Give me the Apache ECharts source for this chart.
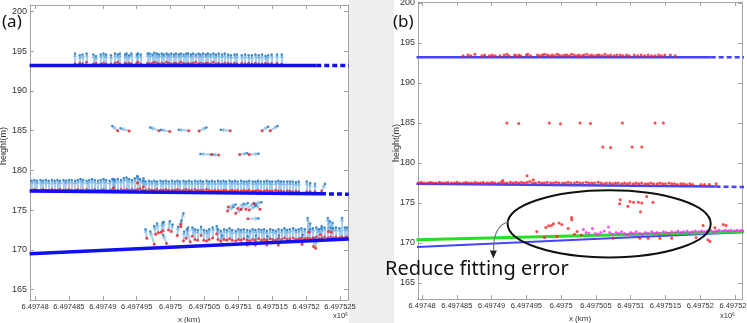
<!DOCTYPE html>
<html>
<head>
<meta charset="utf-8">
<script src="https://cdn.jsdelivr.net/npm/echarts@6.0.0/dist/echarts.min.js"></script>
<style>
html,body{margin:0;padding:0;background:#eeeeee;}
#chart{width:747px;height:323px;}
</style>
</head>
<body>
<div id="chart"></div>
<script>
// x is stored as offset from 6.49748e6 km, tick labels carry the real values
var xTickValues = [0, 5, 10, 15, 20, 25, 30, 35, 40, 45];
var xTickLabels = ['6.49748', '6.497485', '6.49749', '6.497495', '6.4975', '6.497505', '6.49751', '6.497515', '6.49752', '6.497525'];
var yTickValues = [165, 170, 175, 180, 185, 190, 195, 200];

// fitted surfaces [x, height]
var lineTop = [[-0.8, 193.2], [41.5, 193.2]];
var lineTopTail = [[41.5, 193.2], [46.3, 193.2]];
var lineMid = [[-0.8, 177.4], [42.2, 177.05]];
var lineMidTail = [[42.2, 177.05], [46.3, 177.0]];
var lineLow = [[-0.8, 169.5], [46.3, 171.35]];
var lineLowRefit = [[-0.8, 170.4], [46.3, 171.4]];

// vertical vectors: [x, height, tip height]
var band1Vec = [
  [5.9,193.4,194.7],[6.6,193.5,194.5],[7.0,193.4,194.6],[7.6,193.6,194.7],[8.6,193.4,194.6],[9.0,193.5,194.4],[9.7,193.4,194.6],[10.1,193.5,194.7],[10.5,193.4,194.6],[11.2,193.4,194.5],
  [11.8,193.5,194.7],[12.2,193.6,194.6],[12.5,193.4,194.7],[13.3,193.5,194.6],[13.5,193.4,194.7],[13.9,193.5,194.5],[14.2,193.4,194.7],[15.0,193.5,194.6],[15.2,193.6,194.7],[15.6,193.4,194.6],
  [16.6,193.5,194.7],[16.9,193.4,194.7],[17.3,193.5,194.6],[17.6,193.6,194.8],[18.0,193.5,194.7],[18.3,193.4,194.6],[18.7,193.5,194.7],[19.0,193.4,194.6],[19.4,193.6,194.7],[19.7,193.5,194.6],
  [20.1,193.4,194.7],[20.5,193.5,194.6],[20.8,193.5,194.7],[21.2,193.4,194.6],[21.5,193.6,194.7],[21.9,193.5,194.6],[22.3,193.4,194.7],[22.6,193.5,194.7],[23.0,193.4,194.6],[23.3,193.5,194.7],
  [23.7,193.6,194.6],[24.1,193.4,194.7],[24.4,193.5,194.6],[24.8,193.4,194.7],[25.2,193.5,194.6],[25.5,193.5,194.7],[25.9,193.4,194.6],[26.3,193.6,194.7],[26.7,193.4,194.6],[27.1,193.5,194.7],
  [27.6,193.4,194.6],[28.0,193.5,194.7],[28.5,193.5,194.6],[28.9,193.4,194.5],[29.4,193.5,194.6],[29.8,193.4,194.6],[30.5,193.5,194.5],[31.0,193.4,194.6],[31.5,193.5,194.5],[32.0,193.4,194.5],
  [32.5,193.5,194.6],[33.0,193.4,194.5],[33.5,193.4,194.6],[34.0,193.5,194.4],[34.4,193.4,194.5],[34.9,193.5,194.6],[35.7,193.5,194.6],[36.4,193.4,194.6]
];
var band2Vec = [
  [-0.5,177.5,178.7],[-0.1,177.6,178.8],[0.3,177.5,178.7],[0.8,177.5,178.8],[1.2,177.6,178.7],[1.6,177.5,178.8],[2.0,177.5,178.7],[2.5,177.6,178.8],[2.9,177.5,178.7],[3.3,177.5,178.8],
  [3.7,177.6,178.7],[4.2,177.5,178.8],[4.6,177.5,178.7],[5.0,177.6,178.8],[5.4,177.5,178.8],[5.9,177.5,178.7],[6.3,177.6,178.8],[6.7,177.5,178.9],[7.1,177.5,178.8],[7.6,177.6,178.7],
  [8.0,177.5,178.8],[8.4,177.5,178.9],[8.8,177.6,178.8],[9.3,177.5,178.7],[9.7,177.5,178.8],[10.1,177.6,178.9],[10.5,177.5,178.8],[11.0,177.5,178.7],[11.4,177.6,178.9],[11.8,177.5,178.8],
  [12.2,177.5,178.9],[12.7,177.6,178.8],[13.1,177.5,179.0],[13.5,177.6,179.1],[13.9,177.5,178.9],[14.3,177.6,178.8],[14.7,177.5,179.0],[15.1,177.6,179.2],[15.5,177.7,178.9],[15.9,177.5,178.7],
  [16.3,177.5,178.6],[16.8,177.6,178.7],[17.2,177.5,178.6],[17.6,177.5,178.7],[18.0,177.6,178.6],[18.5,177.5,178.7],[18.9,177.5,178.6],[19.3,177.6,178.7],[19.7,177.5,178.6],[20.2,177.5,178.7],
  [20.6,177.5,178.6],[21.0,177.6,178.7],[21.4,177.5,178.6],[21.9,177.5,178.7],[22.3,177.6,178.6],[22.7,177.5,178.7],[23.1,177.5,178.6],[23.6,177.6,178.7],[24.0,177.5,178.6],[24.4,177.5,178.7],
  [24.8,177.5,178.6],[25.3,177.6,178.7],[25.7,177.5,178.6],[26.1,177.4,178.7],[26.5,177.5,178.6],[27.0,177.5,178.7],[27.4,177.4,178.6],[27.8,177.5,178.7],[28.2,177.5,178.6],[28.7,177.4,178.7],
  [29.1,177.5,178.6],[29.5,177.4,178.7],[29.9,177.5,178.6],[30.4,177.4,178.7],[30.8,177.5,178.6],[31.2,177.4,178.6],[31.6,177.5,178.7],[32.1,177.4,178.6],[32.5,177.4,178.6],[32.9,177.5,178.7],
  [33.3,177.4,178.6],[33.8,177.4,178.6],[34.2,177.5,178.7],[34.6,177.4,178.6],[35.0,177.4,178.6],[35.5,177.5,178.6],[35.9,177.4,178.7],[36.3,177.4,178.6],[36.7,177.3,178.6],[37.2,177.4,178.6],
  [37.6,177.4,178.6],[38.0,177.3,178.6],[38.5,177.4,178.5],[38.9,177.3,178.6],[40.1,177.3,178.6],[40.6,177.3,178.4],[41.3,177.3,178.3],
  [11.6,177.8,178.9],[15.1,178.4,179.3],[16.0,177.9,179.0]
];
// lower surface points kept by the refit
var band3Vec = [
  [23.2,171.7,172.8],[23.6,171.3,172.6],[24.0,171.2,172.5],[24.5,171.8,172.9],[24.9,171.2,172.5],[25.3,171.1,172.4],[25.7,171.3,172.6],[26.2,171.5,172.8],[26.8,172.0,173.0],[27.0,171.3,172.6],
  [27.4,171.1,172.4],[27.9,171.3,172.6],[28.3,171.2,172.5],[28.7,171.4,172.7],[29.1,171.2,172.5],[29.6,171.1,172.4],[30.0,171.3,172.6],[30.4,171.2,172.5],[30.8,171.4,172.6],[31.3,171.2,172.5],
  [31.7,171.1,172.4],[32.1,171.3,172.6],[32.5,171.2,172.5],[33.0,171.4,172.6],[33.4,171.2,172.5],[33.8,171.3,172.6],[34.2,171.2,172.4],[34.7,171.4,172.6],[35.1,171.3,172.5],[35.5,171.2,172.4],
  [35.9,171.4,172.6],[36.4,171.3,172.5],[36.8,171.5,172.7],[37.2,171.3,172.5],[37.6,171.4,172.6],[38.1,171.5,172.7],[38.5,171.3,172.5],[38.9,171.4,172.6],[39.3,171.5,172.7],[39.8,171.4,172.6],
  [40.2,171.5,174.0],[40.6,171.4,172.6],[41.0,171.5,172.7],[41.5,171.6,172.8],[41.9,171.4,172.6],[42.3,171.5,172.7],[42.7,171.6,172.8],[43.2,171.5,174.0],[43.6,171.6,172.8],[44.0,171.5,172.7],
  [44.4,171.6,172.8],[44.9,171.5,172.7],[45.3,171.6,174.0],[45.7,171.5,172.8],[46.0,171.6,172.8]
];
// free vectors: [x, height, tip x, tip height]
var band2Tilted = [[42.3,177.4,42.8,178.3]];
var band3Out = [
  [16.5,171.45,16.3,172.6],[17.6,170.7,17.0,172.3],[17.8,171.95,17.6,173.0],[18.2,172.15,18.0,173.3],[18.6,172.2,18.8,173.4],
  [18.9,172.4,19.0,173.5],[19.4,170.8,18.9,171.9],[19.7,172.5,19.9,173.6],[20.1,172.3,20.3,173.2],[21.0,171.8,21.1,172.9],
  [21.5,173.2,21.9,174.6],[21.5,172.9,21.6,173.7],[21.9,171.1,22.0,172.3],[22.3,171.45,22.6,172.8],[22.9,171.0,22.4,172.6],
  [27.5,170.6,27.6,171.8],[31.3,170.6,31.4,171.7],[32.5,170.6,32.6,171.8],[34.2,170.6,34.3,171.7],[35.9,170.6,36.0,171.8],
  [39.4,170.7,39.5,171.9],[40.4,172.2,40.6,173.3],[41.1,170.4,41.2,171.5],[41.4,170.2,41.5,171.3],[42.1,171.9,42.3,173.0],
  [43.3,172.3,43.5,173.6],[43.7,172.2,43.9,173.4]
];
var group185 = [
  [12.2,185.0,11.4,185.6],[13.9,184.95,12.6,185.3],[18.3,185.0,17.0,185.4],[19.9,184.9,18.6,185.1],[22.7,185.0,21.2,185.1],
  [24.2,184.95,25.3,185.4],[28.8,185.0,27.4,185.1],[33.5,185.0,34.4,185.5],[34.7,185.0,35.8,185.6]
];
var group182 = [
  [26.0,182.0,24.4,182.05],[27.1,181.95,26.2,182.0],[30.2,182.0,31.3,182.15],[31.6,182.0,33.0,182.1]
];
var group175 = [
  [28.4,174.9,29.3,175.4],[28.5,175.4,29.6,175.7],[29.6,174.6,30.4,175.1],[29.9,175.2,30.8,175.8],[30.4,175.1,31.4,175.9],
  [31.1,175.1,32.3,175.9],[31.6,175.0,32.5,175.5],[32.3,175.8,33.4,176.0],[33.2,175.1,32.6,175.7],[31.4,173.9,33.0,173.95]
];

// annotation on panel (b), in data units
var noteEllipseCenter = [26.9, 172.4];
var noteEllipseEdge = [41.5, 176.6];
var noteArrowPath = [[12.4, 172.66], [10.2, 172.1], [10.3, 169.1]];
var noteArrowTip = [10.25, 168.05];

var AX = '#a3a3a3';
var LBL = '#333';
var SANS = '"Liberation Sans",Arial,sans-serif';

function quad(v) {
  return v.length === 4 ? v : [v[0], v[1], v[0], v[2]];
}
var allVec = [].concat(band1Vec, band2Vec, band3Vec, band2Tilted, band3Out, group185, group182, group175).map(quad);
var arrowData = allVec.map(function (v) { return {coords: [[v[0], v[1]], [v[2], v[3]]]}; });
var tipData = allVec.map(function (v) { return [v[2], v[3]]; });
var obsA = allVec.map(function (v) { return [v[0], v[1]]; });
var inliersB = band3Vec.map(function (v) { return [v[0], v[1]]; });
var obsB = [].concat(band1Vec, band2Vec, band2Tilted, band3Out, group185, group182, group175)
  .map(function (v) { return [v[0], v[1]]; });

function xAxes(gi, min, max) {
  return [{
    gridIndex: gi, type: 'value', min: min, max: max, position: 'bottom',
    axisLine: {show: true, onZero: false, lineStyle: {color: AX}},
    axisTick: {show: true, inside: true, length: 4, customValues: xTickValues, lineStyle: {color: AX}},
    axisLabel: {
      customValues: xTickValues, margin: 3, fontSize: 7.5, color: LBL, fontFamily: SANS,
      showMinLabel: true, showMaxLabel: true, hideOverlap: false,
      formatter: function (v) { return xTickLabels[xTickValues.indexOf(v)]; }
    },
    splitLine: {show: false},
    name: 'x (km)', nameLocation: 'middle', nameGap: 14,
    nameTextStyle: {fontSize: 8, color: LBL, fontFamily: SANS}
  }, {
    gridIndex: gi, type: 'value', min: min, max: max, position: 'top',
    axisLine: {show: true, onZero: false, lineStyle: {color: AX}},
    axisTick: {show: true, inside: true, length: 4, customValues: xTickValues, lineStyle: {color: AX}},
    axisLabel: {show: false}, splitLine: {show: false}
  }];
}
function yAxes(gi, min, max) {
  return [{
    gridIndex: gi, type: 'value', min: min, max: max, position: 'left',
    axisLine: {show: true, onZero: false, lineStyle: {color: AX}},
    axisTick: {show: true, inside: true, length: 4, customValues: yTickValues, lineStyle: {color: AX}},
    axisLabel: {customValues: yTickValues, showMinLabel: true, showMaxLabel: true, margin: 3, fontSize: 9, color: LBL, fontFamily: SANS},
    splitLine: {show: false}
  }, {
    gridIndex: gi, type: 'value', min: min, max: max, position: 'right',
    axisLine: {show: true, onZero: false, lineStyle: {color: AX}},
    axisTick: {show: true, inside: true, length: 4, customValues: yTickValues, lineStyle: {color: AX}},
    axisLabel: {show: false}, splitLine: {show: false}
  }];
}
function fitLine(ax, data, color, width, dashed, z) {
  return {
    type: 'line', xAxisIndex: ax, yAxisIndex: ax, data: data, showSymbol: false, silent: true, z: z,
    lineStyle: {color: color, width: width, type: dashed ? [5, 3] : 'solid'}
  };
}
function dots(ax, data, color, size, z) {
  return {
    type: 'scatter', xAxisIndex: ax, yAxisIndex: ax, data: data, symbolSize: size, silent: true, z: z,
    itemStyle: {color: color}
  };
}

var chart = echarts.init(document.getElementById('chart'), null, {renderer: 'canvas'});
var option = {
  animation: false,
  backgroundColor: '#eeeeee',
  grid: [
    {left: 30, top: 5, width: 318, height: 295, outerBoundsMode: 'none'},
    {left: 418, top: 2, width: 324, height: 297, outerBoundsMode: 'none'}
  ],
  xAxis: [].concat(xAxes(0, -0.74, 46.18), xAxes(1, -0.58, 46.0)),
  yAxis: [].concat(yAxes(0, 163.68, 200.82), yAxes(1, 163.0, 200.12)),
  series: [
    // (a) vectors, observations, fitted surfaces
    {
      type: 'lines', coordinateSystem: 'cartesian2d', xAxisIndex: 0, yAxisIndex: 0, silent: true, z: 2,
      data: arrowData, symbol: ['none', 'arrow'], symbolSize: 4,
      lineStyle: {color: '#5ea5dc', width: 2, opacity: 0.55}
    },
    dots(0, tipData, '#1f74bf', 2.5, 3),
    dots(0, obsA, '#ec1c24', 3, 4),
    fitLine(0, lineTop, '#1010f0', 3.5, false, 5),
    fitLine(0, lineTopTail, '#1010f0', 3.5, true, 5),
    fitLine(0, lineMid, '#1010f0', 3.5, false, 5),
    fitLine(0, lineMidTail, '#1010f0', 3.5, true, 5),
    fitLine(0, lineLow, '#1010f0', 3.5, false, 5),
    // (b) refit result
    fitLine(2, lineTop, '#4444ff', 2.5, false, 2),
    fitLine(2, lineTopTail, '#4444ff', 2.5, true, 2),
    fitLine(2, lineMid, '#4444ff', 2.5, false, 2),
    fitLine(2, lineMidTail, '#4444ff', 2.5, true, 2),
    fitLine(2, lineLow, '#4444ff', 2, false, 2),
    fitLine(2, lineLowRefit, '#22e022', 3, false, 3),
    dots(2, obsB, '#ff1a1a', 3, 4),
    dots(2, inliersB, '#ff22ff', 3, 4)
  ]
};
chart.setOption(option);

function px(p) {
  return chart.convertToPixel({xAxisIndex: 2, yAxisIndex: 2}, p);
}
var c = px(noteEllipseCenter);
var e = px(noteEllipseEdge);
var a0 = px(noteArrowPath[0]), a1 = px(noteArrowPath[1]), a2 = px(noteArrowPath[2]);
var tip = px(noteArrowTip);

chart.setOption({
  graphic: [
    {type: 'rect', z: -100, silent: true, shape: {x: 0, y: 0, width: 349, height: 323}, style: {fill: '#ffffff'}},
    {type: 'rect', z: -100, silent: true, shape: {x: 394, y: 0, width: 353, height: 323}, style: {fill: '#ffffff'}},
    {type: 'text', x: 2, y: 22, z: 50, style: {text: '(a)', fontSize: 17, fontFamily: 'Noto Sans', fill: '#111', verticalAlign: 'middle'}},
    {type: 'text', x: 393, y: 22, z: 50, style: {text: '(b)', fontSize: 17, fontFamily: 'Noto Sans', fill: '#111', verticalAlign: 'middle'}},
    {type: 'text', x: 4, y: 146, rotation: Math.PI / 2, style: {text: 'height(m)', fontSize: 9, fontFamily: SANS, fill: LBL, align: 'center', verticalAlign: 'middle'}},
    {type: 'text', x: 397, y: 143, rotation: Math.PI / 2, style: {text: 'height(m)', fontSize: 9, fontFamily: SANS, fill: LBL, align: 'center', verticalAlign: 'middle'}},
    {type: 'text', x: 333, y: 316, style: {text: 'x10⁶', fontSize: 7.5, fontFamily: SANS, fill: LBL, verticalAlign: 'middle'}},
    {type: 'text', x: 720, y: 316, style: {text: 'x10⁶', fontSize: 7.5, fontFamily: SANS, fill: LBL, verticalAlign: 'middle'}},
    {type: 'ellipse', z: 60, silent: true, shape: {cx: c[0], cy: c[1], rx: e[0] - c[0], ry: c[1] - e[1]}, style: {fill: 'none', stroke: '#111', lineWidth: 2}},
    {type: 'bezierCurve', z: 60, silent: true, shape: {x1: a0[0], y1: a0[1], cpx1: a1[0], cpy1: a1[1], x2: a2[0], y2: a2[1]}, style: {fill: 'none', stroke: '#777', lineWidth: 1.2}},
    {type: 'polygon', z: 60, silent: true, shape: {points: [[tip[0] - 3.5, tip[1] - 8], [tip[0] + 3.5, tip[1] - 8], [tip[0], tip[1]]]}, style: {fill: '#222'}},
    {type: 'text', x: 385, y: 269, z: 60, style: {text: 'Reduce fitting error', fontSize: 20, fontFamily: 'Noto Sans', fill: '#111', verticalAlign: 'middle'}}
  ]
});
</script>
</body>
</html>
